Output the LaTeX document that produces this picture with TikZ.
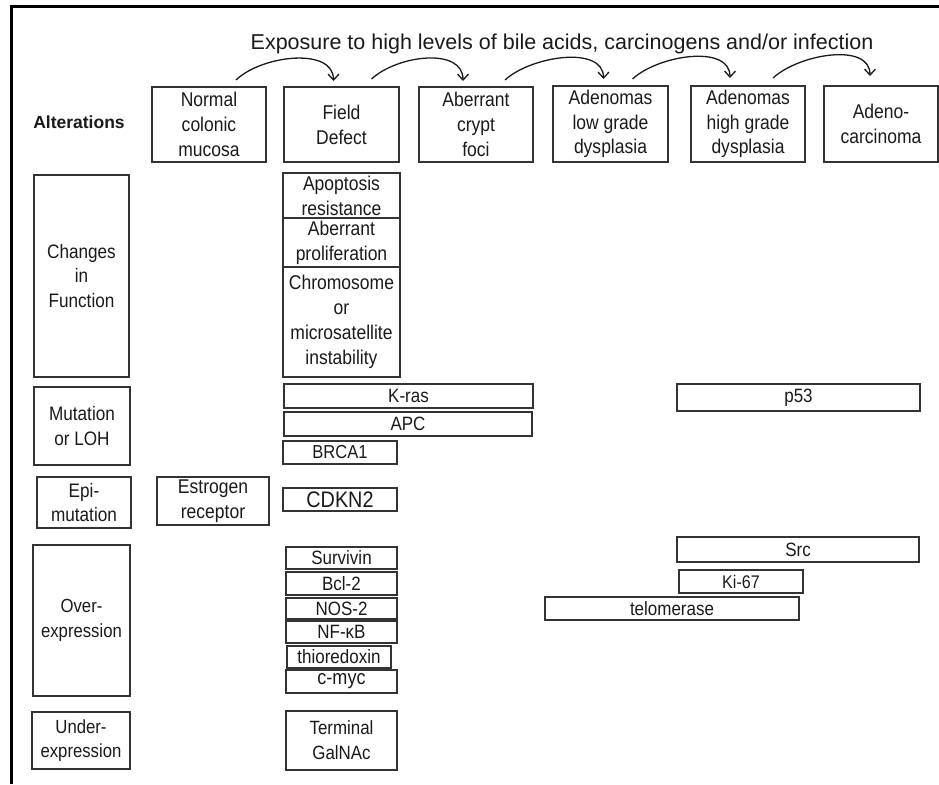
\documentclass[tikz,border=0pt]{standalone}
\usepackage{fontspec}
\setmainfont{Liberation Sans}
% a narrower cut of the same face for the box labels
\newfontfamily\boxfont{Liberation Sans}[FakeStretch=0.88]
\usetikzlibrary{arrows.meta}
\definecolor{boxgray}{HTML}{333333}
\definecolor{inkgray}{HTML}{1A1A1A}
\newcommand\bsize[1]{\boxfont\fontsize{#1}{24.8}\selectfont}
\begin{document}
\begin{tikzpicture}[x=1pt,y=-1pt,
  % a rectangle given by its two corners (x1,y1,x2,y2)
  span/.style n args={4}{minimum width=#3pt-#1pt, minimum height=#4pt-#2pt,
    at={(0.5*#1+0.5*#3, 0.5*#2+0.5*#4)}},
  box/.style={draw=boxgray, line width=1.5pt, inner sep=0pt, outer sep=0pt,
    align=center, text=inkgray, font=\bsize{19.9}},
  bar/.style={box, font=\bsize{19.3}},
  arr/.style={draw=inkgray, line width=1.3pt,
    -{Straight Barb[length=6pt,width=11pt,line width=1.3pt]}},
  frame/.style={draw=black, line width=3pt}]
\useasboundingbox (0,0) rectangle (939,784);

% outer frame: top and left rules only
\draw[frame] (11,784) -- (11,7) -- (939,7);

% title
\node[anchor=base, text=inkgray, font=\fontsize{21.5}{24}\selectfont, inner sep=0pt]
  (title) at (562,50) {Exposure to high levels of bile acids, carcinogens and/or infection};

% stage headers
\node[text=inkgray, font=\fontsize{17.5}{20}\bfseries, inner sep=0pt] (alt) at (79,122) {Alterations};
\node[box, span={152}{87}{266}{162}] (normal) {Normal\\colonic\\mucosa};
\node[box, span={284}{87}{399}{162}] (field) {Field\\Defect};
\node[box, span={419}{87}{533}{162}] (acf) {Aberrant\\crypt\\foci};
\node[box, span={553}{86}{668}{162}] (lowgrade) {Adenomas\\low grade\\dysplasia};
\node[box, span={691}{86}{805}{162}] (highgrade) {Adenomas\\high grade\\dysplasia};
\node[box, span={824}{86}{938}{162}] (carcinoma) {Adeno-\\carcinoma};

% progression arrows
\draw[arr] ([xshift=27pt,yshift=7pt]normal.north) .. controls +(26,-25) and +(0,-34) .. ([xshift=-8pt,yshift=6pt]field.north);
\draw[arr] ([xshift=30pt,yshift=8pt]field.north) .. controls +(26,-24) and +(0,-34) .. ([xshift=-13pt,yshift=6pt]acf.north);
\draw[arr] ([xshift=29pt,yshift=7pt]acf.north) .. controls +(26,-24) and +(0,-34) .. ([xshift=-7pt,yshift=7pt]lowgrade.north);
\draw[arr] ([xshift=22pt,yshift=7pt]lowgrade.north) .. controls +(26,-24) and +(0,-34) .. ([xshift=-18pt,yshift=8pt]highgrade.north);
\draw[arr] ([xshift=25pt,yshift=8pt]highgrade.north) .. controls +(26,-24) and +(0,-34) .. ([xshift=-11pt,yshift=10pt]carcinoma.north);

% alteration categories
\node[box, font=\bsize{19.5}, span={34}{175}{129}{377}] (function) {Changes\\in\\Function};
\node[box, font=\bsize{19.5}, span={34}{387}{130}{465}] (mutation) {Mutation\\or LOH};
\node[box, font=\bsize{19.5}, span={37}{477}{131}{528}] (epi) {Epi-\\mutation};
\node[box, font=\bsize{19}, span={33}{545}{130}{696}] (over) {Over-\\expression};
\node[box, font=\bsize{19}, span={32}{712}{130}{769}] (under) {Under-\\expression};

% changes in function
\node[box, span={283}{173}{400}{218}] (apoptosis) {Apoptosis\\resistance};
\node[box, span={283}{218}{400}{267}] (prolif) {Aberrant\\proliferation};
\node[box, span={283}{267}{400}{377}] (instab) {Chromosome\\or\\microsatellite\\instability};

% mutation or LOH
\node[bar, span={284}{384}{533}{408}] (kras) {K-ras};
\node[bar, span={284}{412}{532}{436}] (apc) {APC};
\node[bar, font=\bsize{18.8}, span={283}{441}{397}{464}] (brca) {BRCA1};
\node[bar, span={677}{384}{920}{411}] (p53) {p53};

% epimutation
\node[box, span={157}{477}{269}{525}] (estrogen) {Estrogen\\receptor};
\node[bar, font=\bsize{22.5}, span={283}{488}{397}{511}] (cdkn) {CDKN2};

% over-expression
\node[bar, span={286}{547}{397}{569}] (survivin) {Survivin};
\node[bar, span={286}{572}{397}{595}] (bcl) {Bcl-2};
\node[bar, span={286}{598}{397}{619}] (nos) {NOS-2};
\node[bar, span={286}{621}{397}{643}] (nfkb) {NF-κB};
\node[bar, span={287}{646}{391}{668}] (thio) {thioredoxin};
\node[bar, font=\bsize{20.5}, span={286}{670}{397}{693}] (myc) {c-myc};
\node[bar, span={677}{537}{919}{562}] (src) {Src};
\node[bar, font=\bsize{18.3}, span={679}{570}{803}{593}] (ki) {Ki-67};
\node[bar, span={545}{597}{799}{620}] (telo) {telomerase};

% under-expression
\node[box, font=\bsize{19.2}, span={286}{711}{397}{770}] (galnac) {Terminal\\GalNAc};
\end{tikzpicture}
\end{document}
